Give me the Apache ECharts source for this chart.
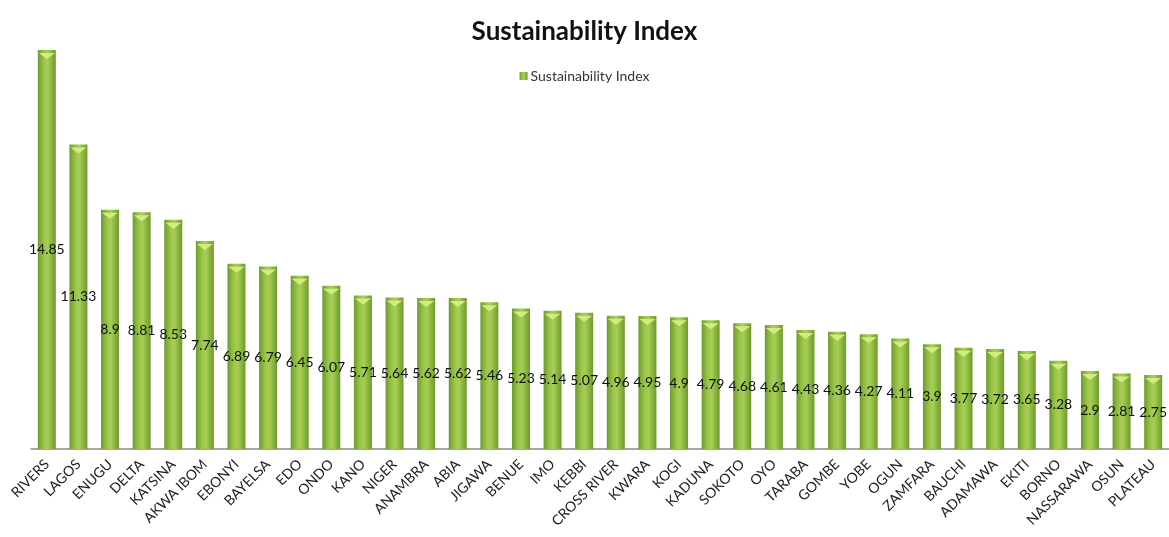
<!DOCTYPE html>
<html>
<head>
<meta charset="utf-8">
<script src="https://cdn.jsdelivr.net/npm/echarts@6/dist/echarts.min.js"></script>
<style>
html,body{margin:0;padding:0;background:#fff;}
#chart{width:1169px;height:537px;}
</style>
</head>
<body>
<div id="chart"></div>
<script>
const states = ["RIVERS","LAGOS","ENUGU","DELTA","KATSINA","AKWA IBOM","EBONYI","BAYELSA","EDO","ONDO","KANO","NIGER","ANAMBRA","ABIA","JIGAWA","BENUE","IMO","KEBBI","CROSS RIVER","KWARA","KOGI","KADUNA","SOKOTO","OYO","TARABA","GOMBE","YOBE","OGUN","ZAMFARA","BAUCHI","ADAMAWA","EKITI","BORNO","NASSARAWA","OSUN","PLATEAU"];
const sustainabilityIndex = [14.85,11.33,8.9,8.81,8.53,7.74,6.89,6.79,6.45,6.07,5.71,5.64,5.62,5.62,5.46,5.23,5.14,5.07,4.96,4.95,4.9,4.79,4.68,4.61,4.43,4.36,4.27,4.11,3.9,3.77,3.72,3.65,3.28,2.9,2.81,2.75];
const seriesName = "Sustainability Index";

const chart = echarts.init(document.getElementById('chart'));
const barGrad = new echarts.graphic.LinearGradient(0,0,1,0,[
  {offset:0,color:'#6e9a2c'},
  {offset:0.35,color:'#9cc64a'},
  {offset:0.55,color:'#a6cf55'},
  {offset:1,color:'#6f9a2b'}
]);
chart.setOption({
  animation:false,
  backgroundColor:'#fff',
  title:{
    text:'Sustainability Index',
    left:'center',
    top:14,
    textStyle:{fontFamily:'Lato',fontWeight:'bold',fontSize:26,color:'#111'}
  },
  legend:{
    data:[seriesName],
    top:64,
    left:'center',
    itemWidth:8,itemHeight:8,itemGap:4,
    icon:'rect',
    textStyle:{fontFamily:'Lato',fontSize:14,color:'#333',padding:[0,0,0,-2]}
  },
  grid:{left:31,right:-4,top:19,bottom:88},
  xAxis:{
    type:'category',
    data:states,
    axisLine:{lineStyle:{color:'#8a8a8a',width:1.5}},
    axisTick:{show:false},
    axisLabel:{rotate:45,interval:0,fontFamily:'Lato',fontSize:14,color:'#222',margin:13}
  },
  yAxis:{
    type:'value',min:0,max:16,
    show:false,
    splitLine:{show:false}
  },
  series:[
    {
      name:seriesName,
      type:'bar',
      data:sustainabilityIndex,
      barWidth:18,
      itemStyle:{color:barGrad},
      label:{show:true,position:'inside',color:'#111',fontFamily:'Lato',fontSize:14},
      z:2
    },
    {
      name:'cap',
      type:'pictorialBar',
      data:sustainabilityIndex,
      symbol:'path://M0,0 L20,0 L10,7 Z',
      symbolSize:[16,6],
      symbolPosition:'end',
      symbolOffset:[0,'50%'],
      itemStyle:{color:'#d2ec82'},
      silent:true,
      z:3
    }
  ]
});
</script>
</body>
</html>
